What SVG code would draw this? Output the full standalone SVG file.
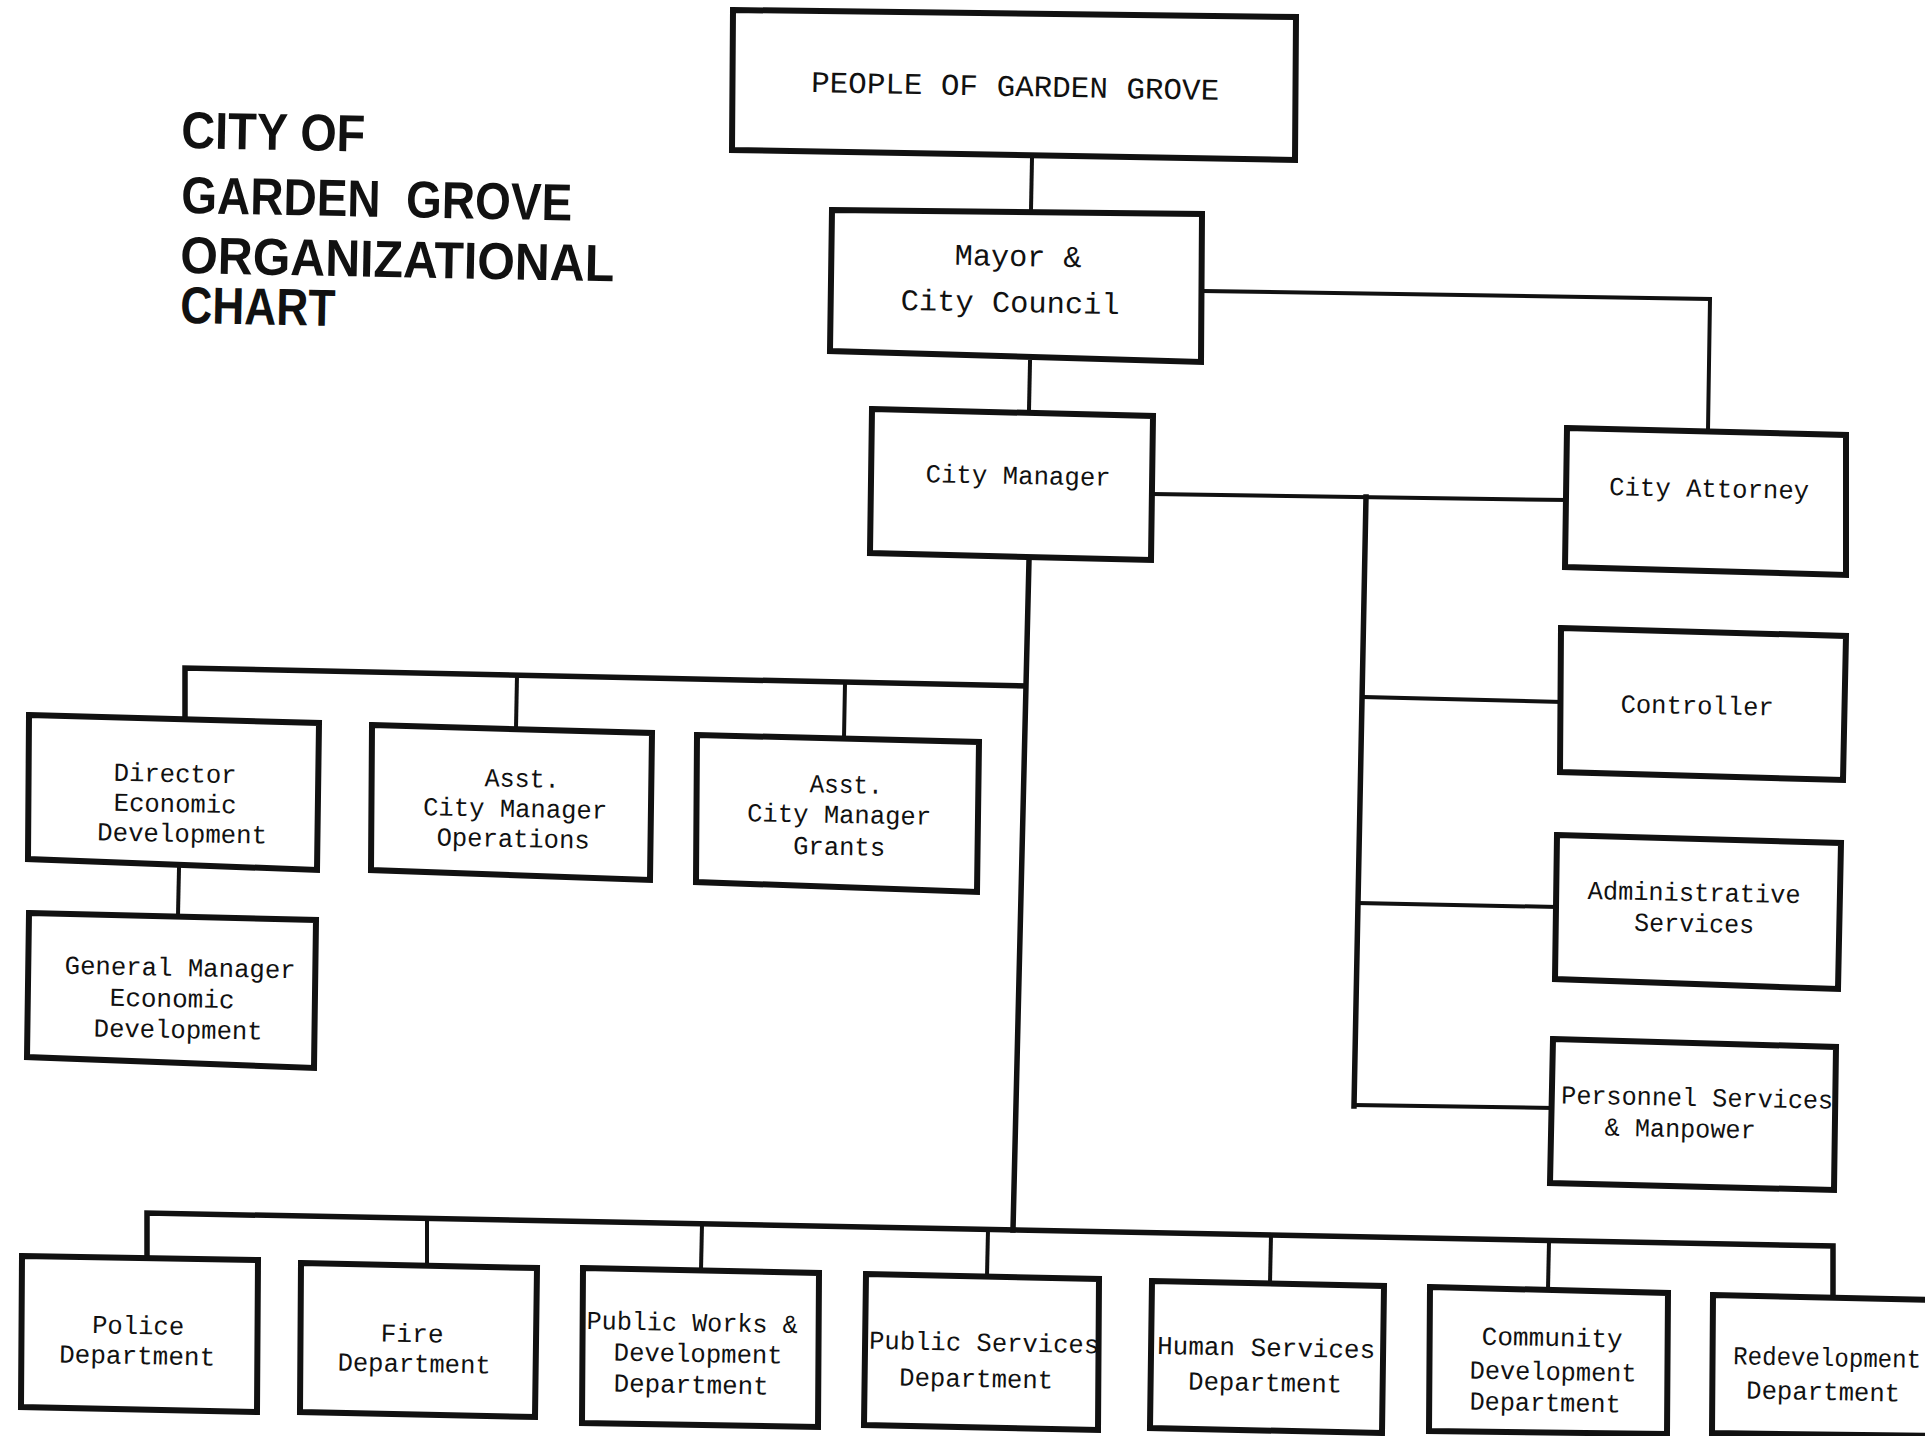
<svg xmlns="http://www.w3.org/2000/svg" width="1925" height="1436" viewBox="0 0 1925 1436">
<style>
.box{fill:#fff;stroke:#111;stroke-width:6;stroke-linejoin:miter}
.ln{fill:none;stroke:#111;stroke-width:4;stroke-linecap:square}
.bus{fill:none;stroke:#111;stroke-width:5.5;stroke-linecap:square}
.t{font-family:"Liberation Mono","DejaVu Sans Mono",monospace;font-size:26px;fill:#111;text-anchor:middle}
.tb{font-family:"Liberation Mono","DejaVu Sans Mono",monospace;font-size:30px;fill:#111;text-anchor:middle}
.title{font-family:"Liberation Sans","DejaVu Sans",sans-serif;font-weight:bold;font-size:52px;fill:#111}
</style>
<rect width="1925" height="1436" fill="#fff"/>

<g id="title">
<text class="title" x="181" y="148" textLength="184" lengthAdjust="spacingAndGlyphs" transform="rotate(1.1 181 148)">CITY OF</text>
<text class="title" x="181" y="213" textLength="391" lengthAdjust="spacingAndGlyphs" transform="rotate(1.1 181 213)" xml:space="preserve">GARDEN  GROVE</text>
<text class="title" x="180" y="273" textLength="434" lengthAdjust="spacingAndGlyphs" transform="rotate(1.1 180 273)">ORGANIZATIONAL</text>
<text class="title" x="180" y="323" textLength="155" lengthAdjust="spacingAndGlyphs" transform="rotate(1.1 180 323)">CHART</text>
</g>

<g id="connectors">
<polyline class="ln" points="1032,158 1031,210"/>
<polyline class="ln" points="1030,362 1029,410"/>
<polyline class="ln" points="1203,291 1710,299 1708,430"/>
<polyline class="ln" points="1153,494 1566,500"/>
<polyline class="bus" points="1366,497 1354,1106"/>
<polyline class="ln" points="1364,697 1561,702"/>
<polyline class="ln" points="1358,903 1556,907"/>
<polyline class="ln" points="1354,1105 1552,1108"/>
<polyline class="bus" points="1029,560 1013,1230"/>
<polyline class="bus" points="185,717 185,668 1025,686"/>
<polyline class="ln" points="517,676 516,728"/>
<polyline class="ln" points="845,683 844,738"/>
<polyline class="ln" points="179,868 178,915"/>
<polyline class="bus" points="147,1256 147,1213 1833,1246 1833,1296"/>
<polyline class="ln" points="427,1219 427,1265"/>
<polyline class="ln" points="702,1224 701,1270"/>
<polyline class="ln" points="988,1230 987,1276"/>
<polyline class="ln" points="1271,1235 1270,1283"/>
<polyline class="ln" points="1549,1241 1548,1289"/>
</g>

<g id="people">
<polygon class="box" points="733,10 1296,17 1295,160 732,150"/>
<text class="tb" x="1015" y="96" textLength="408" lengthAdjust="spacingAndGlyphs" transform="rotate(1.1 1015 96)">PEOPLE OF GARDEN GROVE</text>
</g>

<g id="mayor">
<polygon class="box" points="832,210 1202,214 1201,362 830,351"/>
<text class="tb" x="1018" y="266" textLength="127" lengthAdjust="spacingAndGlyphs" transform="rotate(1.1 1018 266)">Mayor &amp;</text>
<text class="tb" x="1010" y="312" textLength="219" lengthAdjust="spacingAndGlyphs" transform="rotate(1.1 1010 312)">City Council</text>
</g>

<g id="city-manager">
<polygon class="box" points="872,409 1153,416 1151,560 870,553"/>
<text class="t" x="1018" y="484" textLength="185" lengthAdjust="spacingAndGlyphs" transform="rotate(1.1 1018 484)">City Manager</text>
</g>

<g id="city-attorney">
<polygon class="box" points="1567,428 1846,435 1846,575 1565,567"/>
<text class="t" x="1709" y="497" textLength="200" lengthAdjust="spacingAndGlyphs" transform="rotate(1.1 1709 497)">City Attorney</text>
</g>

<g id="controller">
<polygon class="box" points="1561,628 1846,636 1843,780 1560,772"/>
<text class="t" x="1697" y="714" textLength="153" lengthAdjust="spacingAndGlyphs" transform="rotate(1.1 1697 714)">Controller</text>
</g>

<g id="administrative-services">
<polygon class="box" points="1557,835 1841,843 1838,989 1555,979"/>
<text class="t" x="1694" y="901" textLength="213" lengthAdjust="spacingAndGlyphs" transform="rotate(1.1 1694 901)">Administrative</text>
<text class="t" x="1694" y="932" textLength="120" lengthAdjust="spacingAndGlyphs" transform="rotate(1.1 1694 932)">Services</text>
</g>

<g id="personnel-services">
<polygon class="box" points="1553,1039 1836,1047 1834,1190 1550,1183"/>
<text class="t" x="1697" y="1106" textLength="272" lengthAdjust="spacingAndGlyphs" transform="rotate(1.1 1697 1106)">Personnel Services</text>
<text class="t" x="1680" y="1137" textLength="151" lengthAdjust="spacingAndGlyphs" transform="rotate(1.1 1680 1137)">&amp; Manpower</text>
</g>

<g id="director-economic-development">
<polygon class="box" points="29,715 319,723 317,870 28,859"/>
<text class="t" x="175" y="782" textLength="123" lengthAdjust="spacingAndGlyphs" transform="rotate(1.1 175 782)">Director</text>
<text class="t" x="175" y="812" textLength="123" lengthAdjust="spacingAndGlyphs" transform="rotate(1.1 175 812)">Economic</text>
<text class="t" x="182" y="842" textLength="170" lengthAdjust="spacingAndGlyphs" transform="rotate(1.1 182 842)">Development</text>
</g>

<g id="general-manager-economic-development">
<polygon class="box" points="29,913 316,920 314,1068 27,1057"/>
<text class="t" x="180" y="976" textLength="231" lengthAdjust="spacingAndGlyphs" transform="rotate(1.1 180 976)">General Manager</text>
<text class="t" x="172" y="1007" textLength="125" lengthAdjust="spacingAndGlyphs" transform="rotate(1.1 172 1007)">Economic</text>
<text class="t" x="178" y="1038" textLength="169" lengthAdjust="spacingAndGlyphs" transform="rotate(1.1 178 1038)">Development</text>
</g>

<g id="asst-city-manager-operations">
<polygon class="box" points="372,725 652,733 650,880 371,870"/>
<text class="t" x="522" y="787" textLength="75" lengthAdjust="spacingAndGlyphs" transform="rotate(1.1 522 787)">Asst.</text>
<text class="t" x="515" y="817" textLength="184" lengthAdjust="spacingAndGlyphs" transform="rotate(1.1 515 817)">City Manager</text>
<text class="t" x="513" y="847" textLength="153" lengthAdjust="spacingAndGlyphs" transform="rotate(1.1 513 847)">Operations</text>
</g>

<g id="asst-city-manager-grants">
<polygon class="box" points="697,735 979,742 977,892 696,882"/>
<text class="t" x="846" y="793" textLength="73" lengthAdjust="spacingAndGlyphs" transform="rotate(1.1 846 793)">Asst.</text>
<text class="t" x="839" y="823" textLength="184" lengthAdjust="spacingAndGlyphs" transform="rotate(1.1 839 823)">City Manager</text>
<text class="t" x="839" y="855" textLength="92" lengthAdjust="spacingAndGlyphs" transform="rotate(1.1 839 855)">Grants</text>
</g>

<g id="police-department">
<polygon class="box" points="22,1256 258,1260 257,1412 21,1407"/>
<text class="t" x="138" y="1334" textLength="92" lengthAdjust="spacingAndGlyphs" transform="rotate(1.1 138 1334)">Police</text>
<text class="t" x="137" y="1364" textLength="156" lengthAdjust="spacingAndGlyphs" transform="rotate(1.1 137 1364)">Department</text>
</g>

<g id="fire-department">
<polygon class="box" points="301,1263 537,1268 535,1417 300,1412"/>
<text class="t" x="412" y="1342" textLength="63" lengthAdjust="spacingAndGlyphs" transform="rotate(1.1 412 1342)">Fire</text>
<text class="t" x="414" y="1372" textLength="153" lengthAdjust="spacingAndGlyphs" transform="rotate(1.1 414 1372)">Department</text>
</g>

<g id="public-works-development-department">
<polygon class="box" points="583,1268 819,1273 818,1427 582,1423"/>
<text class="t" x="692" y="1331" textLength="211" lengthAdjust="spacingAndGlyphs" transform="rotate(1.1 692 1331)">Public Works &amp;</text>
<text class="t" x="698" y="1362" textLength="169" lengthAdjust="spacingAndGlyphs" transform="rotate(1.1 698 1362)">Development</text>
<text class="t" x="691" y="1393" textLength="155" lengthAdjust="spacingAndGlyphs" transform="rotate(1.1 691 1393)">Department</text>
</g>

<g id="public-services-department">
<polygon class="box" points="866,1274 1099,1279 1098,1430 864,1425"/>
<text class="t" x="984" y="1351" textLength="230" lengthAdjust="spacingAndGlyphs" transform="rotate(1.1 984 1351)">Public Services</text>
<text class="t" x="976" y="1387" textLength="154" lengthAdjust="spacingAndGlyphs" transform="rotate(1.1 976 1387)">Department</text>
</g>

<g id="human-services-department">
<polygon class="box" points="1152,1281 1384,1286 1382,1433 1150,1428"/>
<text class="t" x="1266" y="1356" textLength="218" lengthAdjust="spacingAndGlyphs" transform="rotate(1.1 1266 1356)">Human Services</text>
<text class="t" x="1265" y="1391" textLength="154" lengthAdjust="spacingAndGlyphs" transform="rotate(1.1 1265 1391)">Department</text>
</g>

<g id="community-development-department">
<polygon class="box" points="1430,1287 1668,1293 1667,1434 1429,1431"/>
<text class="t" x="1552" y="1346" textLength="141" lengthAdjust="spacingAndGlyphs" transform="rotate(1.1 1552 1346)">Community</text>
<text class="t" x="1553" y="1380" textLength="167" lengthAdjust="spacingAndGlyphs" transform="rotate(1.1 1553 1380)">Development</text>
<text class="t" x="1545" y="1411" textLength="151" lengthAdjust="spacingAndGlyphs" transform="rotate(1.1 1545 1411)">Department</text>
</g>

<g id="redevelopment-department">
<polygon class="box" points="1713,1295 1935,1300 1935,1436 1712,1433"/>
<text class="t" x="1827" y="1366" textLength="188" lengthAdjust="spacingAndGlyphs" transform="rotate(1.1 1827 1366)">Redevelopment</text>
<text class="t" x="1823" y="1400" textLength="154" lengthAdjust="spacingAndGlyphs" transform="rotate(1.1 1823 1400)">Department</text>
</g>
</svg>
